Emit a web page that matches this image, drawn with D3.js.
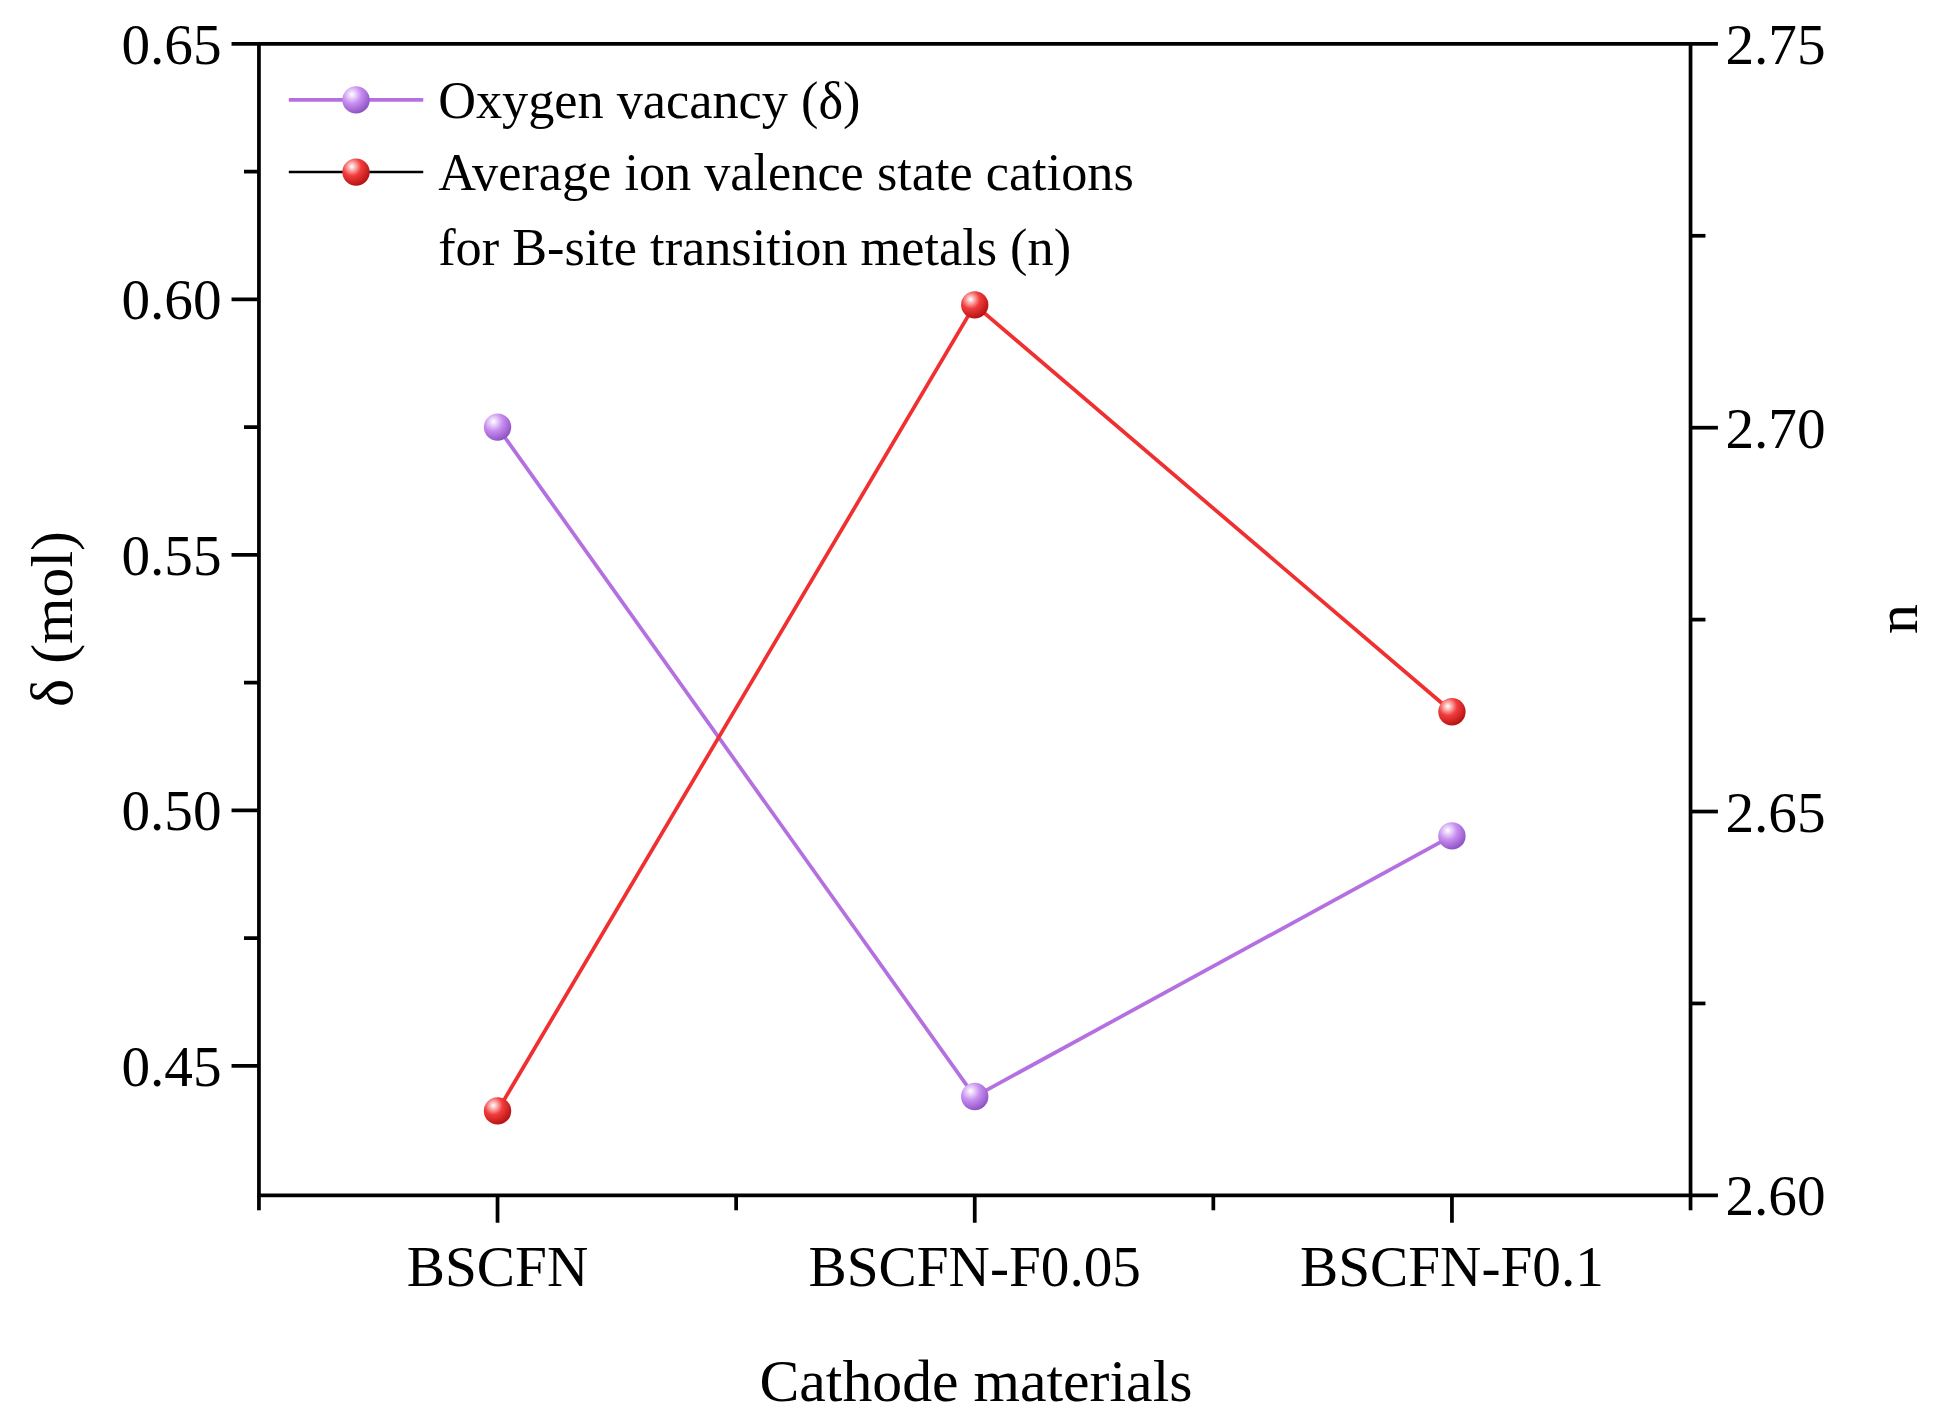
<!DOCTYPE html>
<html><head><meta charset="utf-8">
<script src="https://cdn.jsdelivr.net/npm/d3@7"></script>
<style>body{margin:0;background:#fff}text{font-family:"Liberation Serif","Times New Roman",serif;fill:#000}</style>
</head><body>
<svg width="1942" height="1416" viewBox="0 0 1560 1137"></svg>
<script>
"use strict";

// Data.
var categories = ["BSCFN", "BSCFN-F0.05", "BSCFN-F0.1"];
var deltaValues = [0.575, 0.444, 0.495];
var nValues = [2.611, 2.716, 2.663];
var leftTicks = [0.45, 0.50, 0.55, 0.60, 0.65];
var rightTicks = [2.60, 2.65, 2.70, 2.75];

var svg = d3.select("svg");
var L = 208, R = 1358, T = 35, B = 960;

var x = d3.scaleLinear().domain([0.5, 3.5]).range([L, R]);
var yL = d3.scaleLinear().domain([0.42466, 0.65]).range([B, T]);
var yR = d3.scaleLinear().domain([2.60, 2.75]).range([B, T]);

var defs = svg.append("defs");
function grad(id, light, mid, dark){
    var g = defs.append("radialGradient").attr("id", id)
        .attr("cx", "35%").attr("cy", "30%").attr("r", "75%");
    g.append("stop").attr("offset", "0%").attr("stop-color", light);
    g.append("stop").attr("offset", "45%").attr("stop-color", mid);
    g.append("stop").attr("offset", "100%").attr("stop-color", dark);
}
grad("gp", "#ffffff", "#c88ef0", "#8a4fc0");
grad("gr", "#ffffff", "#f23c3c", "#b01010");

// Frame.
svg.append("rect").attr("x", L).attr("y", T).attr("width", R-L).attr("height", B-T)
    .attr("fill", "none").attr("stroke", "#000").attr("stroke-width", 3);

// Axes.
var tickSize = 22, minorSize = 12;
var gL = svg.append("g");
leftTicks.forEach(function(v){
    gL.append("line").attr("x1", L).attr("x2", L-tickSize).attr("y1", yL(v)).attr("y2", yL(v)).attr("stroke", "#000").attr("stroke-width", 3);
    gL.append("text").attr("x", L-30).attr("y", yL(v)).attr("dy", "0.35em").attr("text-anchor", "end")
        .attr("font-size", 46).text(d3.format(".2f")(v));
});
[0.475, 0.525, 0.575, 0.625].forEach(function(v){
    gL.append("line").attr("x1", L).attr("x2", L-minorSize).attr("y1", yL(v)).attr("y2", yL(v)).attr("stroke", "#000").attr("stroke-width", 3);
});
rightTicks.forEach(function(v){
    gL.append("line").attr("x1", R).attr("x2", R+tickSize).attr("y1", yR(v)).attr("y2", yR(v)).attr("stroke", "#000").attr("stroke-width", 3);
    gL.append("text").attr("x", R+28).attr("y", yR(v)).attr("dy", "0.35em").attr("text-anchor", "start")
        .attr("font-size", 46).text(d3.format(".2f")(v));
});
[2.625, 2.675, 2.725].forEach(function(v){
    gL.append("line").attr("x1", R).attr("x2", R+minorSize).attr("y1", yR(v)).attr("y2", yR(v)).attr("stroke", "#000").attr("stroke-width", 3);
});
categories.forEach(function(c, i){
    gL.append("line").attr("x1", x(i+1)).attr("x2", x(i+1)).attr("y1", B).attr("y2", B+tickSize).attr("stroke", "#000").attr("stroke-width", 3);
    gL.append("text").attr("x", x(i+1)).attr("y", B+73).attr("text-anchor", "middle").attr("font-size", 46).text(c);
});
[0.5, 1.5, 2.5, 3.5].forEach(function(v){
    gL.append("line").attr("x1", x(v)).attr("x2", x(v)).attr("y1", B).attr("y2", B+minorSize).attr("stroke", "#000").attr("stroke-width", 3);
});

// Axis titles.
svg.append("text").attr("x", 784).attr("y", 1125).attr("text-anchor", "middle").attr("font-size", 48).text("Cathode materials");
svg.append("text").attr("transform", "translate(58,497) rotate(-90)").attr("text-anchor", "middle").attr("font-size", 48).text("δ (mol)");
svg.append("text").attr("transform", "translate(1540,497) rotate(-90)").attr("text-anchor", "middle").attr("font-size", 48).text("n");

// Series.
function series(vals, y, color, g){
    svg.append("path").datum(vals)
        .attr("d", d3.line().x(function(d, i){ return x(i+1); }).y(function(d){ return y(d); }))
        .attr("fill", "none").attr("stroke", color).attr("stroke-width", 3);
    svg.selectAll(null).data(vals).enter().append("circle")
        .attr("cx", function(d, i){ return x(i+1); }).attr("cy", function(d){ return y(d); })
        .attr("r", 11).attr("fill", "url(#" + g + ")");
}
series(deltaValues, yL, "#b470e0", "gp");
series(nValues, yR, "#f03030", "gr");

// Legend.
var lg = svg.append("g");
lg.append("line").attr("x1", 232).attr("x2", 340).attr("y1", 80).attr("y2", 80).attr("stroke", "#b470e0").attr("stroke-width", 3);
lg.append("circle").attr("cx", 286).attr("cy", 80).attr("r", 11).attr("fill", "url(#gp)");
lg.append("text").attr("x", 352).attr("y", 80).attr("dy", "0.35em").attr("font-size", 42).text("Oxygen vacancy (δ)");
lg.append("line").attr("x1", 232).attr("x2", 340).attr("y1", 138).attr("y2", 138).attr("stroke", "#000").attr("stroke-width", 2);
lg.append("circle").attr("cx", 286).attr("cy", 138).attr("r", 11).attr("fill", "url(#gr)");
lg.append("text").attr("x", 352).attr("y", 138).attr("dy", "0.35em").attr("font-size", 42).text("Average ion valence state cations");
lg.append("text").attr("x", 352).attr("y", 198).attr("dy", "0.35em").attr("font-size", 42).text("for B-site transition metals (n)");
</script>
</body></html>
